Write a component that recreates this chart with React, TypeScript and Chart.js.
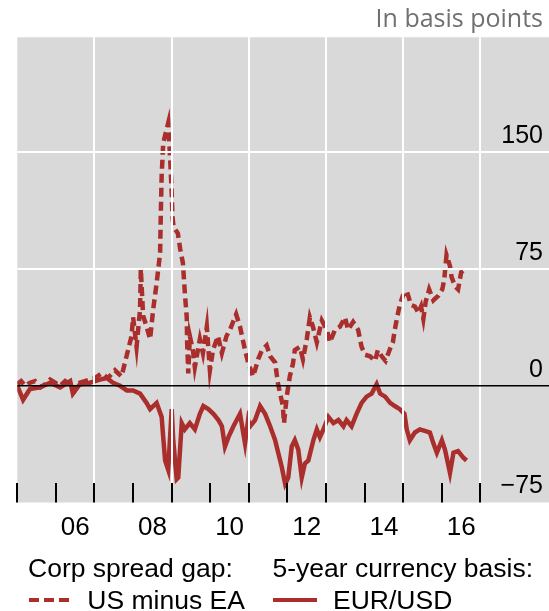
import React, { useEffect, useRef } from 'react';
import { Chart, registerables } from 'chart.js';

Chart.register(...registerables);

// Corp spread gap: US minus EA (dashed)
const spreadYears = [
  2005.0, 2005.1, 2005.2, 2005.33, 2005.46, 2005.6, 2005.72, 2005.85, 2005.98, 2006.11,
  2006.24, 2006.37, 2006.49, 2006.62, 2006.75, 2006.88, 2007.01, 2007.19, 2007.35, 2007.53,
  2007.7, 2007.87, 2007.96, 2008.0, 2008.09, 2008.18, 2008.2, 2008.26, 2008.35, 2008.44,
  2008.52, 2008.61, 2008.68, 2008.7, 2008.72, 2008.74, 2008.78, 2008.91, 2008.96, 2009.0,
  2009.02, 2009.05, 2009.16, 2009.22, 2009.29, 2009.34, 2009.39, 2009.4, 2009.43, 2009.47,
  2009.55, 2009.6, 2009.73, 2009.81, 2009.91, 2009.99, 2010.07, 2010.2, 2010.3, 2010.42,
  2010.51, 2010.67, 2010.77, 2010.9, 2010.98, 2011.11, 2011.24, 2011.34, 2011.46, 2011.55,
  2011.68, 2011.75, 2011.81, 2011.88, 2011.91, 2011.98, 2012.06, 2012.14, 2012.19, 2012.32,
  2012.4, 2012.5, 2012.58, 2012.66, 2012.76, 2012.89, 2013.02, 2013.1, 2013.23, 2013.36,
  2013.49, 2013.57, 2013.7, 2013.83, 2013.92, 2014.01, 2014.14, 2014.27, 2014.34, 2014.44,
  2014.54, 2014.66, 2014.73, 2014.78, 2014.85, 2014.91, 2014.99, 2015.09, 2015.2, 2015.3,
  2015.39, 2015.46, 2015.52, 2015.58, 2015.67, 2015.78, 2015.91, 2016.01, 2016.06, 2016.12,
  2016.21, 2016.25, 2016.34, 2016.42, 2016.5, 2016.6,
];
const spreadValues = [
  1, 3, 0, 2, 3, -1, 1, 4, 2, 0,
  3, 1, -3, 2, 3, 4, 5, 8, 5, 10,
  6, 23, 32, 44, 25, 49, 75, 45, 38, 30,
  49, 66, 81, 86, 113, 135, 156, 169, 146, 124,
  109, 102, 98, 88, 79, 60, 44, 28, 8, 32,
  23, 12, 30, 21, 38, 10, 23, 32, 21, 32,
  36, 46, 38, 23, 15, 6, 17, 23, 26, 19,
  15, 2, -5, -13, -24, -7, 6, 14, 23, 25,
  17, 30, 44, 38, 28, 42, 36, 28, 36, 38,
  44, 36, 41, 36, 25, 20, 19, 16, 23, 19,
  16, 24, 28, 36, 45, 52, 58, 61, 52, 51,
  47, 51, 43, 54, 62, 55, 58, 62, 68, 84,
  77, 70, 64, 62, 73, 75,
];

// 5-year currency basis: EUR/USD (solid)
const basisYears = [
  2005.0, 2005.15, 2005.33, 2005.59, 2005.85, 2006.11, 2006.37, 2006.44, 2006.62, 2006.88,
  2007.14, 2007.32, 2007.48, 2007.66, 2007.84, 2008.0, 2008.18, 2008.35, 2008.44, 2008.61,
  2008.74, 2008.78, 2008.83, 2008.91, 2009.0, 2009.04, 2009.13, 2009.17, 2009.26, 2009.34,
  2009.47, 2009.6, 2009.73, 2009.82, 2009.95, 2010.08, 2010.21, 2010.3, 2010.38, 2010.47,
  2010.6, 2010.77, 2010.9, 2010.98, 2011.03, 2011.16, 2011.29, 2011.42, 2011.55, 2011.68,
  2011.76, 2011.85, 2011.94, 2012.02, 2012.11, 2012.19, 2012.28, 2012.37, 2012.45, 2012.54,
  2012.67, 2012.76, 2012.84, 2012.93, 2013.06, 2013.19, 2013.32, 2013.45, 2013.53, 2013.66,
  2013.79, 2013.92, 2014.05, 2014.18, 2014.31, 2014.4, 2014.53, 2014.66, 2014.78, 2014.91,
  2015.03, 2015.09, 2015.17, 2015.3, 2015.43, 2015.56, 2015.69, 2015.78, 2015.87, 2016.0,
  2016.08, 2016.21, 2016.3, 2016.42, 2016.55, 2016.64,
];
const basisValues = [
  0, -9, -2, -1, 2, -1, 3, -5, 1, 2,
  4, 5, 2, 0, -3, -3, -5, -11, -15, -11,
  -20, -33, -48, -54, -15, -35, -60, -59, -24, -28,
  -24, -28, -18, -13, -15, -18, -22, -26, -39, -33,
  -26, -18, -37, -22, -26, -22, -13, -18, -26, -35,
  -43, -52, -63, -59, -39, -35, -41, -59, -50, -48,
  -35, -28, -33, -28, -20, -24, -22, -26, -22, -26,
  -18, -11, -7, -5, 1, -5, -7, -11, -13, -15,
  -18, -28, -35, -30, -28, -29, -30, -37, -43, -35,
  -41, -56, -43, -42, -46, -48,
];

const xTickYears = [2006.5, 2008.5, 2010.5, 2012.5, 2014.5, 2016.5];
const xTickLabels = ['06', '08', '10', '12', '14', '16'];
const yTickValues = [-75, 0, 75, 150];
const yTickLabels = ['\u221275', '0', '75', '150'];
const yearMarks = [2005, 2006, 2007, 2008, 2009, 2010, 2011, 2012, 2013, 2014, 2015, 2016, 2017];
const gridYears = [2007, 2009, 2011, 2013, 2015, 2017];
const gridValues = [75, 150];

const RED = '#A92E2C';
const FONT = '"Liberation Sans", Arial, sans-serif';

export default function App() {
  const ref = useRef<HTMLCanvasElement>(null);

  useEffect(() => {
    const canvas = ref.current;
    if (!canvas) return;

    const decor = {
      id: 'decor',
      beforeDraw(chart: any) {
        const { ctx, chartArea: a, width } = chart;
        ctx.save();
        ctx.fillStyle = '#D9D9D9';
        ctx.fillRect(a.left, a.top, width - a.left, a.bottom - a.top);
        ctx.restore();
      },
      afterDatasetsDraw(chart: any) {
        const { ctx, chartArea: a, width, scales } = chart;
        const xs = scales.x;
        const ys = scales.y;
        ctx.save();
        ctx.strokeStyle = '#FFFFFF';
        ctx.lineWidth = 2;
        gridYears.forEach((v) => {
          const px = Math.round(xs.getPixelForValue(v));
          ctx.beginPath();
          ctx.moveTo(px, a.top);
          ctx.lineTo(px, a.bottom);
          ctx.stroke();
        });
        gridValues.forEach((v) => {
          const py = Math.round(ys.getPixelForValue(v));
          ctx.beginPath();
          ctx.moveTo(a.left, py);
          ctx.lineTo(width, py);
          ctx.stroke();
        });
        ctx.strokeStyle = '#000000';
        ctx.lineWidth = 1.6;
        const zy = ys.getPixelForValue(0);
        ctx.beginPath();
        ctx.moveTo(a.left, zy);
        ctx.lineTo(width, zy);
        ctx.stroke();
        ctx.lineWidth = 2;
        yearMarks.forEach((v) => {
          const px = Math.round(xs.getPixelForValue(v));
          ctx.beginPath();
          ctx.moveTo(px, a.bottom - 19.5);
          ctx.lineTo(px, a.bottom);
          ctx.stroke();
        });
        ctx.restore();
      },
      afterDraw(chart: any) {
        const { ctx } = chart;
        ctx.save();
        ctx.font = `26.5px ${FONT}`;
        ctx.fillStyle = '#000000';
        ctx.textBaseline = 'alphabetic';
        ctx.textAlign = 'left';
        ctx.fillText('Corp spread gap:', 28, 576.7);
        ctx.fillText('5-year currency basis:', 272.4, 576.7);
        ctx.fillText('US minus EA', 87.3, 609.3);
        ctx.fillText('EUR/USD', 333, 609.3);
        ctx.strokeStyle = RED;
        ctx.lineWidth = 4;
        ctx.setLineDash([10, 5]);
        ctx.lineDashOffset = 13;
        ctx.beginPath();
        ctx.moveTo(27, 600);
        ctx.lineTo(73, 600);
        ctx.stroke();
        ctx.setLineDash([]);
        ctx.beginPath();
        ctx.moveTo(273, 600);
        ctx.lineTo(317, 600);
        ctx.stroke();
        ctx.restore();
      },
    };

    const chart = new Chart(canvas, {
      type: 'line',
      data: {
        datasets: [
          {
            label: 'US minus EA',
            data: spreadYears.map((x, i) => ({ x, y: spreadValues[i] })),
            borderColor: RED,
            backgroundColor: RED,
            borderWidth: 4.5,
            borderDash: [9, 5],
            pointRadius: 0,
            tension: 0,
            fill: false,
          },
          {
            label: 'EUR/USD',
            data: basisYears.map((x, i) => ({ x, y: basisValues[i] })),
            borderColor: RED,
            backgroundColor: RED,
            borderWidth: 4.5,
            pointRadius: 0,
            tension: 0,
            fill: false,
          },
        ],
      },
      options: {
        animation: false,
        responsive: false,
        maintainAspectRatio: false,
        layout: { padding: { left: 17.3, right: 6, top: 0, bottom: 57.3 } },
        plugins: {
          legend: { display: false },
          tooltip: { enabled: false },
          title: {
            display: true,
            text: 'In basis points',
            align: 'end',
            color: '#707070',
            font: { family: '"Open Sans", "Noto Sans", sans-serif', size: 25, weight: 'normal' },
            padding: { top: 5.3, bottom: 2 },
          },
        },
        scales: {
          x: {
            type: 'linear',
            position: 'bottom',
            min: 2005,
            max: 2018.62,
            grid: { display: false, drawTicks: false },
            border: { display: false },
            afterBuildTicks: (axis: any) => {
              axis.ticks = xTickYears.map((value) => ({ value }));
            },
            ticks: {
              autoSkip: false,
              maxRotation: 0,
              padding: 10,
              color: '#000000',
              font: { family: FONT, size: 26 },
              callback: (_v: any, i: number) => xTickLabels[i],
            },
          },
          y: {
            type: 'linear',
            position: 'right',
            min: -75,
            max: 224,
            grid: { display: false, drawTicks: false },
            border: { display: false },
            afterBuildTicks: (axis: any) => {
              axis.ticks = yTickValues.map((value) => ({ value }));
            },
            ticks: {
              mirror: true,
              padding: 0,
              labelOffset: -16,
              color: '#000000',
              font: { family: FONT, size: 25 },
              callback: (_v: any, i: number) => yTickLabels[i],
            },
          },
        },
      },
      plugins: [decor],
    });

    return () => chart.destroy();
  }, []);

  return (
    <div style={{ position: 'fixed', left: 0, top: 0, width: 549, height: 611, background: '#FFFFFF' }}>
      <canvas ref={ref} width={549} height={611} style={{ display: 'block', width: 549, height: 611 }} />
    </div>
  );
}
